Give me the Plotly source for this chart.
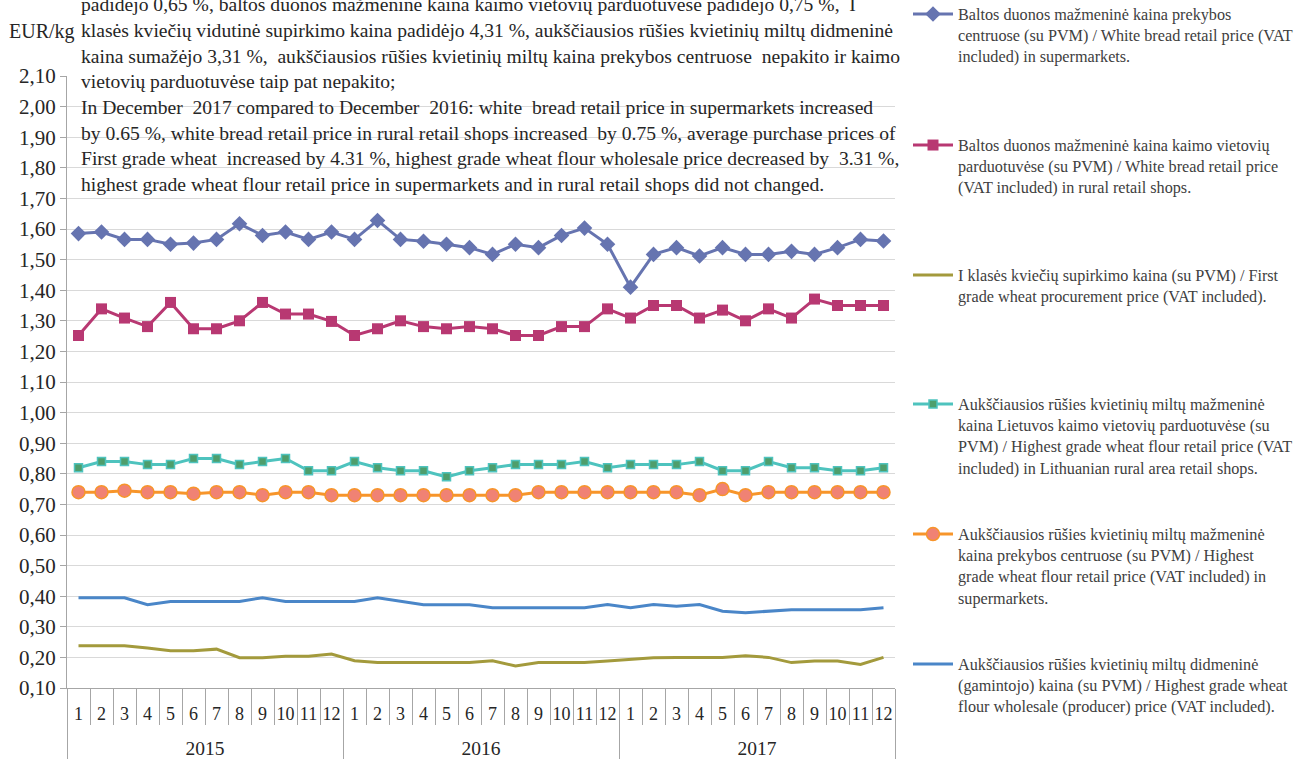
import plotly.graph_objects as go

years = ["2015"] * 12 + ["2016"] * 12 + ["2017"] * 12
months = ["1", "2", "3", "4", "5", "6", "7", "8", "9", "10", "11", "12"] * 3
year_labels = ["2015", "2016", "2017"]

bread_super = [1.585, 1.59, 1.566, 1.566, 1.55, 1.554, 1.566, 1.617, 1.579, 1.59, 1.566, 1.59,
               1.566, 1.628, 1.566, 1.56, 1.55, 1.539, 1.517, 1.55, 1.539, 1.579, 1.603, 1.55,
               1.41, 1.517, 1.539, 1.512, 1.539, 1.517, 1.517, 1.527, 1.517, 1.539, 1.566, 1.561]

bread_rural = [1.252, 1.339, 1.309, 1.281, 1.36, 1.274, 1.274, 1.30, 1.36, 1.322, 1.322, 1.298,
               1.252, 1.274, 1.30, 1.281, 1.274, 1.281, 1.274, 1.252, 1.252, 1.281, 1.281, 1.339,
               1.309, 1.35, 1.35, 1.309, 1.335, 1.30, 1.339, 1.309, 1.371, 1.35, 1.35, 1.35]

wheat_proc = [0.238, 0.238, 0.238, 0.231, 0.222, 0.222, 0.227, 0.199, 0.199, 0.204, 0.204, 0.211,
              0.189, 0.183, 0.183, 0.183, 0.183, 0.183, 0.189, 0.172, 0.183, 0.183, 0.183, 0.188,
              0.194, 0.199, 0.20, 0.20, 0.20, 0.205, 0.20, 0.183, 0.188, 0.188, 0.177, 0.20]

flour_rural = [0.82, 0.84, 0.84, 0.83, 0.83, 0.85, 0.85, 0.83, 0.84, 0.85, 0.81, 0.81,
               0.84, 0.82, 0.81, 0.81, 0.79, 0.81, 0.82, 0.83, 0.83, 0.83, 0.84, 0.82,
               0.83, 0.83, 0.83, 0.84, 0.81, 0.81, 0.84, 0.82, 0.82, 0.81, 0.81, 0.82]

flour_super = [0.74, 0.74, 0.745, 0.74, 0.74, 0.735, 0.74, 0.74, 0.73, 0.74, 0.74, 0.73,
               0.73, 0.73, 0.73, 0.73, 0.73, 0.73, 0.73, 0.73, 0.74, 0.74, 0.74, 0.74,
               0.74, 0.74, 0.74, 0.73, 0.75, 0.73, 0.74, 0.74, 0.74, 0.74, 0.74, 0.74]

flour_wholesale = [0.395, 0.395, 0.395, 0.372, 0.383, 0.383, 0.383, 0.383, 0.395, 0.383, 0.383, 0.383,
                   0.383, 0.395, 0.384, 0.372, 0.372, 0.372, 0.362, 0.362, 0.362, 0.362, 0.362, 0.373,
                   0.362, 0.373, 0.367, 0.373, 0.351, 0.346, 0.351, 0.356, 0.356, 0.356, 0.356, 0.362]

names = [
    "Baltos duonos mažmeninė kaina prekybos<br>centruose (su PVM) / White bread retail price (VAT<br>included) in supermarkets.",
    "Baltos duonos mažmeninė kaina kaimo vietovių<br>parduotuvėse (su PVM) / White bread retail price<br>(VAT included) in rural retail shops.",
    "I klasės kviečių supirkimo kaina (su PVM) / First<br>grade wheat procurement price (VAT included).",
    "Aukščiausios rūšies kvietinių miltų mažmeninė<br>kaina Lietuvos kaimo vietovių parduotuvėse (su<br>PVM) / Highest grade wheat flour retail price (VAT<br>included) in Lithuanian rural area retail shops.",
    "Aukščiausios rūšies kvietinių miltų mažmeninė<br>kaina prekybos centruose (su PVM) / Highest<br>grade wheat flour retail price (VAT included) in<br>supermarkets.",
    "Aukščiausios rūšies kvietinių miltų didmeninė<br>(gamintojo) kaina (su PVM) / Highest grade wheat<br>flour wholesale (producer) price (VAT included).",
]

text_lines = [
    "padidėjo 0,65 %, baltos duonos mažmeninė kaina kaimo vietovių parduotuvėse padidėjo 0,75 %,  I",
    "klasės kviečių vidutinė supirkimo kaina padidėjo 4,31 %, aukščiausios rūšies kvietinių miltų didmeninė",
    "kaina sumažėjo 3,31 %,  aukščiausios rūšies kvietinių miltų kaina prekybos centruose  nepakito ir kaimo",
    "vietovių parduotuvėse taip pat nepakito;",
    "In December  2017 compared to December  2016: white  bread retail price in supermarkets increased",
    "by 0.65 %, white bread retail price in rural retail shops increased  by 0.75 %, average purchase prices of",
    "First grade wheat  increased by 4.31 %, highest grade wheat flour wholesale price decreased by  3.31 %,",
    "highest grade wheat flour retail price in supermarkets and in rural retail shops did not changed.",
]

FONT = "Times New Roman, Liberation Serif, DejaVu Serif, serif"
TXT = "#262626"
GRAY = "#A6A6A6"

# category keys (one per month); the labels shown are the month numbers
cats = [y + "-" + m for y, m in zip(years, months)]
n = len(cats)
# month boundaries and year boundaries / centres in category-index units
month_bounds = [i - 0.5 for i in range(n + 1)]
year_bounds = [-0.5] + [i + 0.5 for i in range(n - 1) if years[i] != years[i + 1]] + [n - 0.5]
year_centres = [(a + b) / 2 for a, b in zip(year_bounds[:-1], year_bounds[1:])]

fig = go.Figure()
fig.add_trace(go.Scatter(x=cats, y=bread_super, name=names[0], mode="lines+markers",
                         line=dict(color="#6674B0", width=3),
                         marker=dict(symbol="diamond", size=12, color="#6674B0"),
                         legend="legend"))
fig.add_trace(go.Scatter(x=cats, y=bread_rural, name=names[1], mode="lines+markers",
                         line=dict(color="#B83872", width=3),
                         marker=dict(symbol="square", size=11, color="#B83872"),
                         legend="legend2"))
fig.add_trace(go.Scatter(x=cats, y=wheat_proc, name=names[2], mode="lines",
                         line=dict(color="#A39A3C", width=3),
                         legend="legend3"))
fig.add_trace(go.Scatter(x=cats, y=flour_rural, name=names[3], mode="lines+markers",
                         line=dict(color="#4EC3BE", width=3),
                         marker=dict(symbol="square", size=8, color="#4E9E6C",
                                     line=dict(color="#4EC3BE", width=1.5)),
                         legend="legend4"))
fig.add_trace(go.Scatter(x=cats, y=flour_super, name=names[4], mode="lines+markers",
                         line=dict(color="#F7952A", width=3),
                         marker=dict(symbol="circle", size=13, color="#F08274",
                                     line=dict(color="#F7952A", width=1.5)),
                         legend="legend5"))
fig.add_trace(go.Scatter(x=cats, y=flour_wholesale, name=names[5], mode="lines",
                         line=dict(color="#4A86C8", width=3),
                         legend="legend6"))

# empty helper traces so that the overlaid decoration axes (month/year dividers, year labels) are drawn
for ax in ["x2", "x3", "x4"]:
    fig.add_trace(go.Scatter(x=[], y=[], xaxis=ax, yaxis="y", mode="lines",
                             showlegend=False, hoverinfo="skip"))

L, R, T, B = 67, 895, 76, 688
PW, PH = R - L, B - T


def px_x(p):
    return (p - L) / PW


def px_y(p):
    return (B - p) / PH


legend_tops = [-3, 128, 258, 387, 517, 647]
legend_keys = ["legend", "legend2", "legend3", "legend4", "legend5", "legend6"]
leg_layout = {}
for key, top in zip(legend_keys, legend_tops):
    leg_layout[key] = dict(x=px_x(908), xanchor="left", y=px_y(top), yanchor="top",
                           font=dict(family=FONT, size=16.2, color="#404040"),
                           bgcolor="rgba(0,0,0,0)", valign="top", itemwidth=40,
                           tracegroupgap=0)

annotations = []
line_y0, line_dy = 5, 25.6
for i, t in enumerate(text_lines):
    annotations.append(dict(text=t, xref="paper", yref="paper", x=px_x(79), xanchor="left",
                            y=px_y(line_y0 + i * line_dy), yanchor="middle", showarrow=False,
                            font=dict(family=FONT, size=19.6, color=TXT)))
annotations.append(dict(text="EUR/kg", xref="paper", yref="paper", x=px_x(7), xanchor="left",
                        y=px_y(31), yanchor="middle", showarrow=False,
                        font=dict(family=FONT, size=20, color=TXT)))

rng = [-0.5, n - 0.5]

fig.update_layout(
    width=1300, height=759,
    margin=dict(l=L, r=1300 - R, t=T, b=759 - B, autoexpand=False),
    paper_bgcolor="white", plot_bgcolor="white",
    separators=",.",
    font=dict(family=FONT, color=TXT),
    showlegend=True,
    annotations=annotations,
    xaxis=dict(type="category", range=rng, automargin=False, showgrid=False, zeroline=False,
               showline=True, linecolor=GRAY, linewidth=1,
               tickmode="array", tickvals=cats, ticktext=months, tickangle=0,
               ticks="", ticklabelstandoff=9,
               tickfont=dict(family=FONT, size=18, color=TXT)),
    xaxis2=dict(type="linear", overlaying="x", anchor="y", side="bottom", range=rng,
                automargin=False, showgrid=False, zeroline=False, showline=False,
                tickmode="array", tickvals=month_bounds, ticktext=[""] * len(month_bounds),
                ticks="outside", ticklen=36, tickcolor=GRAY, tickwidth=1),
    xaxis3=dict(type="linear", overlaying="x", anchor="y", side="bottom", range=rng,
                automargin=False, showgrid=False, zeroline=False, showline=False,
                tickmode="array", tickvals=year_bounds, ticktext=[""] * len(year_bounds),
                ticks="outside", ticklen=75, tickcolor=GRAY, tickwidth=1),
    xaxis4=dict(type="linear", overlaying="x", anchor="y", side="bottom", range=rng,
                automargin=False, showgrid=False, zeroline=False, showline=False,
                tickmode="array", tickvals=year_centres, ticktext=year_labels, tickangle=0,
                ticks="", ticklabelstandoff=46,
                tickfont=dict(family=FONT, size=19.5, color=TXT)),
    yaxis=dict(range=[0.1, 2.1], tick0=0.1, dtick=0.1, tickformat=".2f",
               showgrid=True, gridcolor="#D9D9D9", gridwidth=1.3,
               showline=True, linecolor=GRAY, linewidth=1,
               ticks="outside", ticklen=6, tickcolor=GRAY, automargin=False,
               zeroline=False, tickfont=dict(family=FONT, size=21, color=TXT)),
    **leg_layout,
)

fig.write_html("out.html", config={"displayModeBar": False},
               post_script="document.body.style.margin='0';")
